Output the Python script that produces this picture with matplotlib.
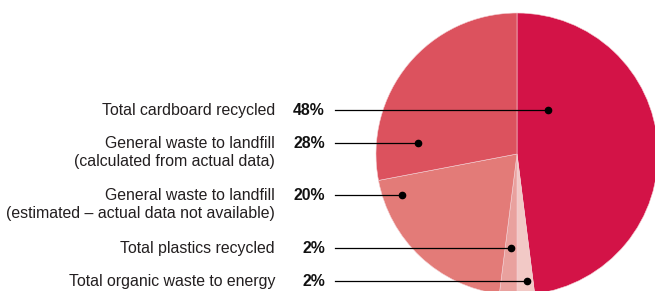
import matplotlib.pyplot as plt

# waste breakdown, clockwise from 12 o'clock
names = ['Total cardboard recycled', 'Total organic waste to energy',
         'Total plastics recycled',
         'General waste to landfill\n(estimated \u2013 actual data not available)',
         'General waste to landfill\n(calculated from actual data)']
shares = [48, 2, 2, 20, 28]
colors = ['#d31347', '#f2c9c6', '#e9a19e', '#e37b78', '#dc525e']

# label rows (top to bottom) -> index into the lists above
label_order = [0, 4, 3, 2, 1]
label_y = [0.312, 0.078, -0.291, -0.667, -0.901]
dot_x = [0.220, -0.702, -0.816, -0.043, 0.071]

plt.rcParams['font.family'] = ['Liberation Sans', 'DejaVu Sans']
fs = 11.4

fig = plt.figure(figsize=(6.55, 2.91), dpi=100)
ax = fig.add_axes([0, 0, 1, 1])

ax.pie(shares, colors=colors, startangle=90, counterclock=False,
       radius=1, center=(0, 0),
       wedgeprops=dict(edgecolor='#f4d0d4', linewidth=0.4))

for row, i in enumerate(label_order):
    y = label_y[row]
    lines = names[i].split('\n')
    ax.text(-1.716, y, lines[0], ha='right', va='center', fontsize=fs, color='#231f20')
    if len(lines) > 1:
        ax.text(-1.716, y - 0.128, lines[1], ha='right', va='center', fontsize=fs, color='#231f20')
    ax.text(-1.362, y, '%d%%' % shares[i], ha='right', va='center', fontsize=fs,
            fontweight='bold', color='#111111')
    ax.plot([-1.291, dot_x[row]], [y, y], color='black', lw=0.9)
    ax.plot(dot_x[row], y, 'o', color='black', ms=4.5)

ax.set_xlim(-517 / 141, 138 / 141)
ax.set_ylim(-137 / 141, 154 / 141)
ax.set_aspect('equal')
ax.axis('off')

fig.savefig('out.png', dpi=100)
